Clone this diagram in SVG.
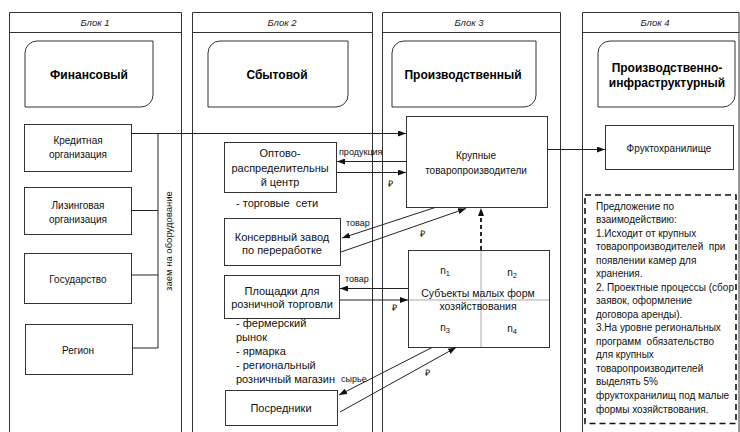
<svg xmlns="http://www.w3.org/2000/svg" width="740" height="432" viewBox="0 0 740 432">
<style>
.col{fill:none;stroke:#333;stroke-width:1}
.box{fill:#fff;stroke:#333;stroke-width:1}
.t{font-family:"Liberation Sans",Arial,sans-serif;font-size:10px;fill:#111}
.m{text-anchor:middle}
.h{font-family:"Liberation Sans",Arial,sans-serif;font-size:9.5px;font-style:italic;fill:#222;text-anchor:middle}
.b{font-family:"Liberation Sans",Arial,sans-serif;font-size:12px;font-weight:bold;fill:#000;text-anchor:middle}
.t11{font-size:11px}
.s{font-size:9px}
.sub{font-size:7.5px}
.ln{fill:none;stroke:#222;stroke-width:1}
.ar{fill:none;stroke:#222;stroke-width:1;marker-end:url(#ah)}
.grid{stroke:#aaa;stroke-width:1}
</style>
<defs>
<marker id="ah" markerUnits="userSpaceOnUse" markerWidth="8" markerHeight="6" refX="8" refY="3" orient="auto">
<path d="M0,0 L8,3 L0,6 z" fill="#111"/>
</marker>
</defs>
<rect width="740" height="432" fill="#fff"/>

<g id="block1">
<path class="col" d="M9.5,432 V12.5 H181.5 V432 M9.5,32.5 H181.5"/>
<text class="h" x="95" y="25.5">Блок 1</text>
<path class="box" d="M25,107 V53 A12,12 0 0 1 37,41 H153 V95 A12,12 0 0 1 141,107 Z"/>
<text class="b" x="89" y="79">Финансовый</text>
</g>
<g id="block2">
<path class="col" d="M192.5,432 V12.5 H372.5 V432 M192.5,32.5 H372.5"/>
<text class="h" x="282" y="25.5">Блок 2</text>
<path class="box" d="M208,107 V53 A12,12 0 0 1 220,41 H348 V95 A12,12 0 0 1 336,107 Z"/>
<text class="b" x="277" y="79">Сбытовой</text>
</g>
<g id="block3">
<path class="col" d="M382.5,432 V12.5 H560.5 V432 M382.5,32.5 H560.5"/>
<text class="h" x="469" y="25.5">Блок 3</text>
<path class="box" d="M392,107 V53 A12,12 0 0 1 404,41 H536 V95 A12,12 0 0 1 524,107 Z"/>
<text class="b" x="463" y="79">Производственный</text>
</g>
<g id="block4">
<path class="col" d="M582.5,432 V12.5 H739 V432 M582.5,32.5 H739"/>
<text class="h" x="655" y="25.5">Блок 4</text>
<path class="box" d="M598,107 V53 A12,12 0 0 1 610,41 H735 V95 A12,12 0 0 1 723,107 Z"/>
<text class="b" x="667" y="72">Производственно-</text>
<text class="b" x="667" y="86.5">инфраструктурный</text>
</g>

<g id="credit">
<rect class="box" x="24.5" y="124.5" width="107" height="47"/>
<text class="t m" x="78" y="143.5">Кредитная</text>
<text class="t m" x="78" y="157.5">организация</text>
</g>
<g id="leasing">
<rect class="box" x="24.5" y="187.5" width="107" height="47"/>
<text class="t m" x="78" y="208.5">Лизинговая</text>
<text class="t m" x="78" y="222.5">организация</text>
</g>
<g id="state">
<rect class="box" x="24.5" y="253.5" width="107" height="50"/>
<text class="t m" x="78" y="282.5">Государство</text>
</g>
<g id="region">
<rect class="box" x="25.5" y="324.5" width="107" height="50"/>
<text class="t m" x="78" y="354">Регион</text>
</g>

<g id="wholesale">
<rect class="box" x="224.5" y="142.5" width="112" height="50"/>
<text class="t t11 m" x="280" y="157">Оптово-</text>
<text class="t t11 m" x="280" y="171.5">распределительны</text>
<text class="t t11 m" x="280" y="186">й центр</text>
<text class="t t11" x="236" y="207">- торговые&#160; сети</text>
</g>
<g id="cannery">
<rect class="box" x="224.5" y="218.5" width="116" height="47"/>
<text class="t t11 m" x="282" y="240.5">Консервный завод</text>
<text class="t t11 m" x="282" y="254">по переработке</text>
</g>
<g id="retail">
<rect class="box" x="224.5" y="275.5" width="115" height="43"/>
<text class="t t11 m" x="282" y="294.5">Площадки для</text>
<text class="t t11 m" x="282" y="308">розничной торговли</text>
<text class="t t11" x="236" y="326.5">- фермерский</text>
<text class="t t11" x="236" y="341">рынок</text>
<text class="t t11" x="236" y="354.5">- ярмарка</text>
<text class="t t11" x="236" y="368.5">- региональный</text>
<text class="t t11" x="236" y="382.5">розничный магазин</text>
</g>
<g id="intermediaries">
<rect class="box" x="225.5" y="390.5" width="112" height="35"/>
<text class="t t11 m" x="281" y="412">Посредники</text>
</g>

<g id="large">
<rect class="box" x="406.5" y="116.5" width="141" height="91"/>
<text class="t m" x="476" y="158.5">Крупные</text>
<text class="t m" x="476" y="173.5">товаропроизводители</text>
</g>
<g id="small">
<rect class="box" x="408.5" y="250.5" width="141" height="97"/>
<line class="grid" x1="481" y1="251" x2="481" y2="347"/>
<line class="grid" x1="409" y1="300" x2="549" y2="300"/>
<text class="t m" x="445" y="274">n<tspan class="sub" dy="2">1</tspan></text>
<text class="t m" x="512" y="275.5">n<tspan class="sub" dy="2">2</tspan></text>
<text class="t m" x="445" y="331">n<tspan class="sub" dy="2">3</tspan></text>
<text class="t m" x="512" y="331.5">n<tspan class="sub" dy="2">4</tspan></text>
<text class="t m" x="478" y="296.5" style="font-size:10.5px">Субъекты малых форм</text>
<text class="t m" x="478" y="310" style="font-size:10.5px">хозяйствования</text>
</g>
<g id="storage">
<rect class="box" x="605.5" y="125.5" width="128" height="44"/>
<text class="t m" x="669" y="151.5">Фруктохранилище</text>
</g>
<g id="proposal">
<rect x="585" y="195" width="151" height="228.5" fill="#fff" stroke="#111" stroke-width="1.6" stroke-dasharray="6,4"/>
<text class="t" x="596" y="209.5">Предложение по</text>
<text class="t" x="596" y="223">взаимодействию:</text>
<text class="t" x="596" y="236.6">1.Исходит от крупных</text>
<text class="t" x="596" y="250.1">товаропроизводителей&#160; при</text>
<text class="t" x="596" y="263.6">появлении камер для</text>
<text class="t" x="596" y="277.2">хранения.</text>
<text class="t" x="596" y="290.7">2. Проектные процессы (сбор</text>
<text class="t" x="596" y="304.2">заявок, оформление</text>
<text class="t" x="596" y="317.8">договора аренды).</text>
<text class="t" x="596" y="331.3">3.На уровне региональных</text>
<text class="t" x="596" y="344.8">программ&#160; обязательство</text>
<text class="t" x="596" y="358.4">для крупных</text>
<text class="t" x="596" y="371.9">товаропроизводителей</text>
<text class="t" x="596" y="385.4">выделять 5%</text>
<text class="t" x="596" y="399">фруктохранилищ под малые</text>
<text class="t" x="596" y="412.5">формы хозяйствования.</text>
</g>

<g id="connectors">
<path class="ln" d="M131,133.5 H158 M131,210.5 H158 M131,275 H158 M132,348 H158 M158,133.5 V348"/>
<text class="t" transform="translate(172,241) rotate(-90)" text-anchor="middle" style="font-size:9.5px">заем на оборудование</text>
<line class="ar" x1="158" y1="133.5" x2="406" y2="133.5"/>
<line class="ar" x1="406" y1="161.5" x2="337" y2="161.5"/>
<text class="t s" x="339" y="155">продукция</text>
<line class="ar" x1="337" y1="172.5" x2="406" y2="172.5"/>
<text class="t s" x="388" y="187">₽</text>
<line class="ar" x1="435" y1="207.5" x2="342" y2="238"/>
<text class="t s" x="346" y="226">товар</text>
<line class="ar" x1="341" y1="252" x2="466" y2="208.5"/>
<text class="t s" x="420" y="237">₽</text>
<line class="ar" x1="408" y1="288.5" x2="340" y2="288.5"/>
<text class="t s" x="345" y="282">товар</text>
<line class="ar" x1="340" y1="300" x2="408" y2="300"/>
<text class="t s" x="392" y="311">₽</text>
<line class="ar" x1="432" y1="347.5" x2="339" y2="395"/>
<text class="t s" x="341" y="382">сырье</text>
<line class="ar" x1="340" y1="412" x2="456" y2="347.5"/>
<text class="t s" x="425" y="376">₽</text>
<line x1="481" y1="250" x2="481" y2="208" stroke="#111" stroke-width="1.8" stroke-dasharray="4,3" marker-end="url(#ah)"/>
<line class="ar" x1="548" y1="149.5" x2="605" y2="149.5"/>
</g>
</svg>
